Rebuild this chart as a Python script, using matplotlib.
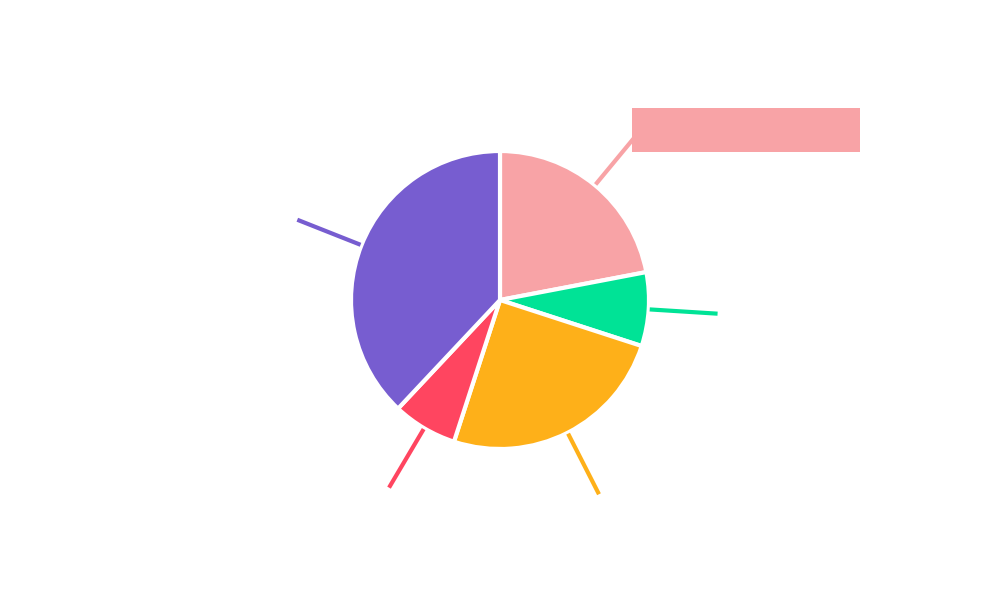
import numpy as np
import matplotlib
matplotlib.use("Agg")
import matplotlib.pyplot as plt
from matplotlib.patches import Rectangle

values = [22, 8, 25, 7, 38]
colors = ["#F8A3A6", "#00E396", "#FEB019", "#FF4560", "#775DD0"]

fig = plt.figure(figsize=(10, 6), dpi=100)
ax = fig.add_axes([0, 0, 1, 1])
ax.set_xlim(0, 1000)
ax.set_ylim(0, 600)
ax.set_aspect("equal")
ax.axis("off")

cx, cy, R = 500, 300, 149
wedges, _ = ax.pie(values, colors=colors, startangle=90, counterclock=False,
                   center=(cx, cy), radius=R,
                   wedgeprops=dict(edgecolor="white", linewidth=3))
ax.set_xlim(0, 1000)
ax.set_ylim(0, 600)

for w, c in zip(wedges, colors):
    mid = np.deg2rad((w.theta1 + w.theta2) / 2)
    r0, r1 = 150, 218
    ax.plot([cx + r0 * np.cos(mid), cx + r1 * np.cos(mid)],
            [cy + r0 * np.sin(mid), cy + r1 * np.sin(mid)],
            color=c, lw=3, solid_capstyle="butt", zorder=1)

ax.add_patch(Rectangle((632, 448), 228, 44, facecolor=colors[0], edgecolor="none", zorder=3))

fig.savefig("out.png", dpi=100)
